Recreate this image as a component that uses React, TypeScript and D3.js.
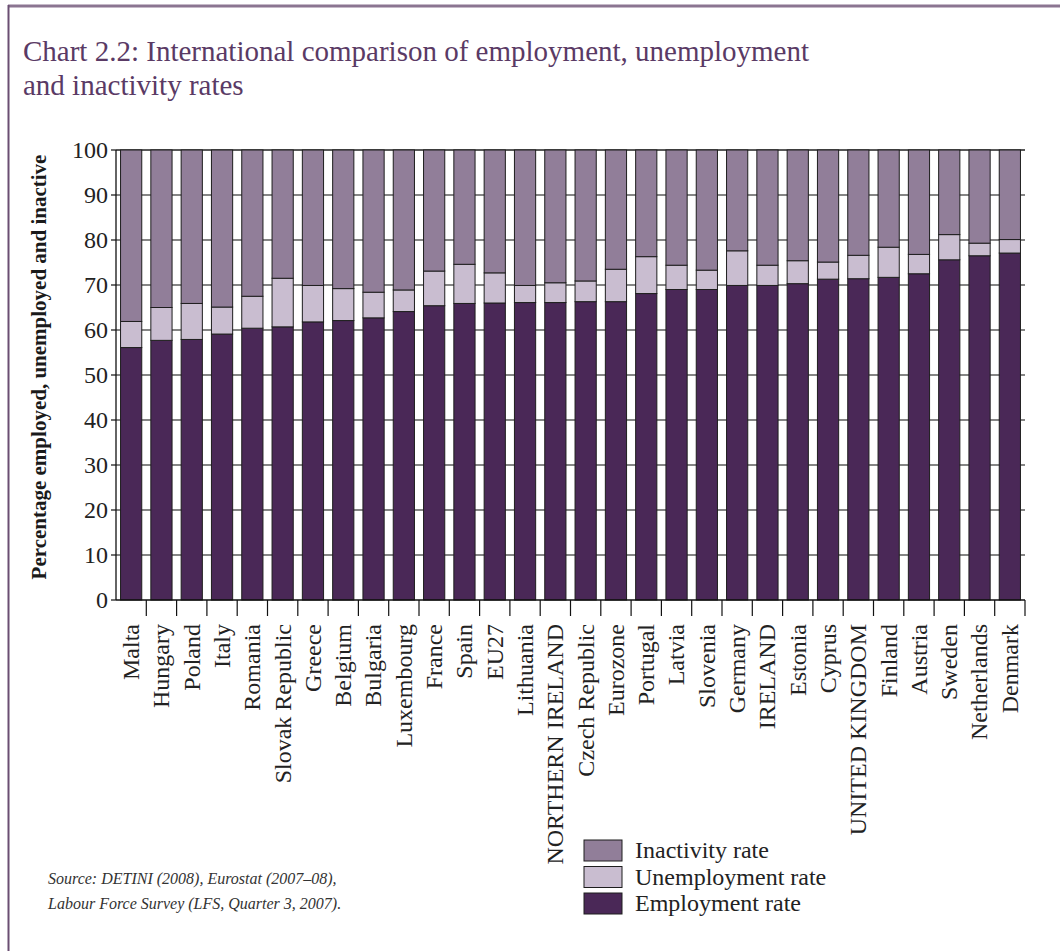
import React from "react";
import * as d3 from "d3";

const categories = [
  "Malta", "Hungary", "Poland", "Italy", "Romania", "Slovak Republic", "Greece",
  "Belgium", "Bulgaria", "Luxembourg", "France", "Spain", "EU27", "Lithuania",
  "NORTHERN IRELAND", "Czech Republic", "Eurozone", "Portugal", "Latvia", "Slovenia",
  "Germany", "IRELAND", "Estonia", "Cyprus", "UNITED KINGDOM", "Finland", "Austria",
  "Sweden", "Netherlands", "Denmark",
];
const employment = [
  56.1, 57.7, 57.9, 59.1, 60.4, 60.7, 61.8, 62.1, 62.7, 64.1, 65.4, 65.9, 66.0, 66.1,
  66.1, 66.3, 66.3, 68.1, 69.0, 69.0, 69.9, 69.9, 70.3, 71.3, 71.4, 71.7, 72.5, 75.6,
  76.5, 77.1,
];
const unemployment = [
  5.8, 7.3, 8.0, 6.0, 7.1, 10.8, 8.1, 7.1, 5.7, 4.8, 7.7, 8.7, 6.7, 3.8,
  4.4, 4.6, 7.2, 8.2, 5.4, 4.3, 7.7, 4.5, 5.1, 3.8, 5.2, 6.7, 4.3, 5.6,
  2.8, 3.0,
];
const inactivity = employment.map((e, i) => +(100 - e - unemployment[i]).toFixed(1));
const yTicks = [0, 10, 20, 30, 40, 50, 60, 70, 80, 90, 100];
const seriesNames = ["Employment rate", "Unemployment rate", "Inactivity rate"];
const seriesColors = ["#4a2857", "#c9bdd0", "#917e99"];

const W = 1060;
const H = 951;
const SERIF = "'Liberation Serif', 'Times New Roman', serif";

export default function App() {
  const left = 116, right = 1025, top = 150, bottom = 600;
  const x = d3.scaleBand<string>().domain(categories).range([left, right]).paddingInner(0.3).paddingOuter(0.15);
  const y = d3.scaleLinear().domain([0, 100]).range([bottom, top]);
  const step = x.step();
  const rows = categories.map((c, i) => ({ c, e: employment[i], u: unemployment[i], n: inactivity[i] }));
  const stack = d3.stack<any>().keys(["e", "u", "n"])(rows);
  const legendOrder = [2, 1, 0];

  return (
    <svg width={W} height={H} style={{ display: "block", position: "absolute", left: 0, top: 0 }}>
      <rect x={0} y={0} width={W} height={H} fill="#fff" />
      {/* frame */}
      <line x1={8} x2={W} y1={6} y2={6} stroke="#8b7591" strokeWidth={3} />
      <line x1={8.5} x2={8.5} y1={5} y2={H} stroke="#6a4f72" strokeWidth={2} />

      {/* title */}
      <text x={23} y={61} fontFamily={SERIF} fontSize={29} fill="#5a3a65">
        Chart 2.2: International comparison of employment, unemployment
      </text>
      <text x={23} y={95} fontFamily={SERIF} fontSize={29} fill="#5a3a65">
        and inactivity rates
      </text>

      {/* gridlines */}
      {yTicks.filter((t) => t > 0).map((t) => (
        <line key={"g" + t} x1={left} x2={right} y1={y(t)} y2={y(t)} stroke={t === 100 ? "#222" : "#5c5c5c"} strokeWidth={1.3} />
      ))}

      {/* bars */}
      {stack.map((s, si) => (
        <g key={"s" + si}>
          {s.map((d, i) => (
            <rect
              key={i}
              x={x(categories[i])!}
              y={y(d[1])}
              width={x.bandwidth()}
              height={y(d[0]) - y(d[1])}
              fill={seriesColors[si]}
              stroke="#1e1e1e"
              strokeWidth={1}
            />
          ))}
        </g>
      ))}

      {/* y axis */}
      <line x1={left} x2={left} y1={top} y2={bottom} stroke="#111" strokeWidth={1.3} />
      {yTicks.map((t) => (
        <g key={"yt" + t}>
          <line x1={left - 5} x2={left} y1={y(t)} y2={y(t)} stroke="#111" strokeWidth={1.2} />
          <text x={left - 8} y={y(t)} dy="0.35em" textAnchor="end" fontFamily={SERIF} fontSize={24} fill="#222">
            {t}
          </text>
        </g>
      ))}
      <text
        transform={`translate(46, 367) rotate(-90)`}
        textAnchor="middle"
        fontFamily={SERIF}
        fontWeight="bold"
        fontSize={21}
        fill="#1a1a1a"
      >
        Percentage employed, unemployed and inactive
      </text>

      {/* x axis */}
      <line x1={left} x2={right} y1={bottom} y2={bottom} stroke="#111" strokeWidth={1.3} />
      {categories.map((c, i) => (
        <line key={"xt" + i} x1={left + step * (i + 1)} x2={left + step * (i + 1)} y1={bottom} y2={bottom + 16} stroke="#111" strokeWidth={1.2} />
      ))}
      {categories.map((c) => (
        <text
          key={"xl" + c}
          transform={`translate(${x(c)! + x.bandwidth() / 2}, ${bottom + 24}) rotate(-90)`}
          textAnchor="end"
          dy="0.33em"
          fontFamily={SERIF}
          fontSize={24}
          fill="#222"
        >
          {c}
        </text>
      ))}

      {/* legend */}
      {legendOrder.map((si, k) => (
        <g key={"lg" + si}>
          <rect x={584} y={840 + k * 26.5} width={38} height={21} fill={seriesColors[si]} stroke="#1e1e1e" strokeWidth={1} />
          <text x={635} y={858 + k * 26.5} fontFamily={SERIF} fontSize={24} fill="#222">
            {seriesNames[si]}
          </text>
        </g>
      ))}

      {/* source */}
      <text x={48} y={884} fontFamily={SERIF} fontStyle="italic" fontSize={16} fill="#333">
        Source: DETINI (2008), Eurostat (2007–08),
      </text>
      <text x={48} y={909} fontFamily={SERIF} fontStyle="italic" fontSize={16} fill="#333">
        Labour Force Survey (LFS, Quarter 3, 2007).
      </text>
    </svg>
  );
}
